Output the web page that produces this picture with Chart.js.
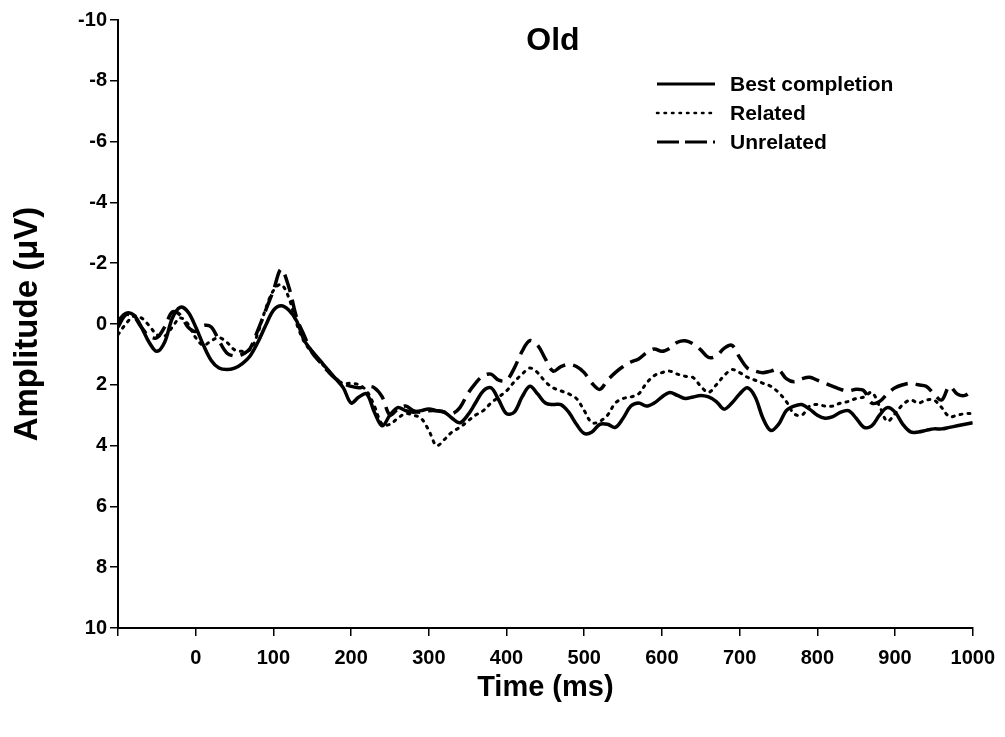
<!DOCTYPE html>
<html>
<head>
<meta charset="utf-8">
<script src="https://cdn.jsdelivr.net/npm/chart.js@4/dist/chart.umd.min.js"></script>
<style>
    html, body { margin: 0; padding: 0; background: #fff; }
    #wrap { width: 1005px; height: 737px; }
</style>
</head>
<body>
<div id="wrap"><canvas id="erp-chart"></canvas></div>
<script>
// Time points (ms), every 10 ms from -100 to 1000
const times = [];
for (let t = -100; t <= 1000; t += 10) times.push(t);

// Amplitude (uV), one value per time point
const bestCompletion = [
    -0.1, -0.35, -0.3, 0.1, 0.6, 0.9, 0.6, -0.2, -0.55, -0.4,
    0.1, 0.7, 1.2, 1.45, 1.5, 1.45, 1.3, 1.05, 0.6, 0.05,
    -0.45, -0.6, -0.45, -0.1, 0.55, 0.9, 1.2, 1.5, 1.8, 2.1,
    2.6, 2.4, 2.3, 2.9, 3.35, 3.0, 2.75, 2.85, 2.9, 2.85,
    2.8, 2.85, 2.9, 3.1, 3.25, 3.0, 2.6, 2.2, 2.1, 2.5,
    2.95, 2.9, 2.4, 2.05, 2.3, 2.6, 2.65, 2.65, 2.9, 3.3,
    3.6, 3.55, 3.3, 3.3, 3.4, 3.1, 2.7, 2.6, 2.7, 2.6,
    2.4, 2.25, 2.35, 2.45, 2.4, 2.35, 2.4, 2.55, 2.8, 2.6,
    2.3, 2.1, 2.4, 3.1, 3.5, 3.3, 2.85, 2.7, 2.65, 2.8,
    3.0, 3.1, 3.05, 2.9, 2.85, 3.1, 3.4, 3.35, 3.0, 2.75,
    2.9, 3.3, 3.55, 3.55, 3.5, 3.45, 3.45, 3.4, 3.35, 3.3,
    3.25
];
const related = [
    0.35, 0.0, -0.25, -0.2, 0.05, 0.35, 0.4, 0.1, -0.2, 0.0,
    0.45, 0.7, 0.55, 0.45, 0.6, 0.85, 0.9, 0.85, 0.3, -0.5,
    -1.1, -1.3, -0.85, 0.0, 0.6, 0.95, 1.25, 1.5, 1.8, 1.95,
    1.95, 2.0, 2.2, 2.7, 3.3, 3.3, 3.1, 2.95, 3.0, 3.1,
    3.5, 4.0, 3.8, 3.55, 3.4, 3.2, 3.0, 2.85, 2.6, 2.4,
    2.2, 1.9, 1.65, 1.45, 1.6, 1.9, 2.1, 2.2, 2.3, 2.45,
    2.85, 3.25, 3.2, 3.0, 2.6, 2.45, 2.4, 2.3, 1.95, 1.7,
    1.6, 1.55, 1.65, 1.72, 1.76, 2.05, 2.25, 2.0, 1.7, 1.5,
    1.6, 1.75, 1.85, 1.95, 2.05, 2.25, 2.55, 2.95, 3.0, 2.7,
    2.65, 2.7, 2.7, 2.6, 2.55, 2.45, 2.4, 2.25, 2.7, 3.2,
    2.95, 2.65, 2.5, 2.6, 2.5, 2.5, 2.75, 3.05, 3.0, 2.95,
    2.95
];
const unrelated = [
    0.1, -0.3, -0.25, 0.1, 0.4, 0.45, 0.1, -0.4, -0.3, 0.1,
    0.25, 0.05, 0.1, 0.55, 0.95, 1.05, 1.0, 0.8, 0.2, -0.45,
    -1.1, -1.8, -1.2, -0.2, 0.4, 0.95, 1.25, 1.55, 1.8, 1.95,
    2.05, 2.1, 2.05, 2.1, 2.4, 3.0, 2.8, 2.7, 2.85, 2.9,
    2.85, 2.85, 2.9, 2.95, 2.75, 2.3, 1.95, 1.7, 1.65, 1.85,
    1.85, 1.45, 0.9, 0.55, 0.7, 1.15, 1.55, 1.4, 1.33, 1.4,
    1.6, 1.95, 2.15, 1.85, 1.6, 1.4, 1.25, 1.15, 0.95, 0.82,
    0.9, 0.8, 0.6, 0.55, 0.65, 0.85, 1.1, 1.05, 0.8, 0.7,
    1.1, 1.45, 1.55, 1.6, 1.55, 1.5, 1.8, 1.9, 1.8, 1.75,
    1.85, 1.95, 2.05, 2.15, 2.2, 2.15, 2.2, 2.6, 2.55, 2.3,
    2.1, 2.0, 1.95, 2.0, 2.05, 2.3, 2.5, 2.05, 2.3, 2.35,
    2.15
];

const seriesNames = ['Best completion', 'Related', 'Unrelated'];
const xTickValues = [-100, 0, 100, 200, 300, 400, 500, 600, 700, 800, 900, 1000];
const yTickValues = [-10, -8, -6, -4, -2, 0, 2, 4, 6, 8, 10];

const FONT = '"Liberation Sans", Arial, sans-serif';
const styles = [
    { width: 3.5, dash: [], cap: 'butt' },
    { width: 3, dash: [2, 6], cap: 'round' },
    { width: 3.5, dash: [18, 8], cap: 'butt' }
];

function toPoints(values) {
    return values.map((v, i) => ({ x: times[i], y: v }));
}

// Title and legend sit inside the plot area, as in the figure
const overlayPlugin = {
    id: 'overlay',
    afterDraw(chart) {
        const ctx = chart.ctx;
        ctx.save();
        ctx.fillStyle = '#000';
        ctx.font = 'bold 32px ' + FONT;
        ctx.textAlign = 'center';
        ctx.textBaseline = 'middle';
        ctx.fillText('Old', 553, 41);

        ctx.font = 'bold 21px ' + FONT;
        ctx.textAlign = 'left';
        const lx = 657, tx = 730;
        const rows = [84, 113, 142];
        seriesNames.forEach((name, i) => {
            ctx.beginPath();
            ctx.lineWidth = i === 1 ? 2.5 : 3;
            ctx.lineCap = i === 1 ? 'round' : 'butt';
            ctx.setLineDash(i === 0 ? [] : (i === 1 ? [1.5, 6] : [22, 6]));
            ctx.strokeStyle = '#000';
            ctx.moveTo(lx, rows[i]);
            ctx.lineTo(lx + 58, rows[i]);
            ctx.stroke();
            ctx.setLineDash([]);
            ctx.fillText(name, tx, rows[i] + 1);
        });
        ctx.restore();
    }
};

document.addEventListener('DOMContentLoaded', function() {
    const ctx = document.getElementById('erp-chart');
    new Chart(ctx, {
        type: 'line',
        data: {
            datasets: seriesNames.map((name, i) => ({
                label: name,
                data: toPoints([bestCompletion, related, unrelated][i]),
                borderColor: '#000',
                borderWidth: styles[i].width,
                borderDash: styles[i].dash,
                borderCapStyle: styles[i].cap,
                pointRadius: 0,
                tension: 0.35,
                fill: false
            }))
        },
        options: {
            responsive: true,
            maintainAspectRatio: false,
            animation: false,
            layout: { padding: { left: 0, top: 20, right: 30, bottom: 0 } },
            plugins: {
                legend: { display: false },
                tooltip: { enabled: false }
            },
            scales: {
                x: {
                    type: 'linear',
                    min: -100,
                    max: 1000,
                    afterBuildTicks: (scale) => { scale.ticks = xTickValues.map(v => ({ value: v })); },
                    afterFit: (scale) => { scale.height = 109; },
                    border: { color: '#000', width: 2 },
                    grid: { drawOnChartArea: false, drawTicks: true, tickLength: 8, color: '#000', lineWidth: 1.5 },
                    ticks: {
                        color: '#000',
                        padding: 10,
                        maxRotation: 0,
                        autoSkip: false,
                        font: { family: FONT, size: 20, weight: 'bold' },
                        callback: (v) => (v === -100 ? '' : String(v))
                    },
                    title: {
                        display: true,
                        text: 'Time (ms)',
                        color: '#000',
                        padding: { top: 0, bottom: 32 },
                        font: { family: FONT, size: 29, weight: 'bold' }
                    }
                },
                y: {
                    type: 'linear',
                    min: -10,
                    max: 10,
                    reverse: true,
                    afterBuildTicks: (scale) => { scale.ticks = yTickValues.map(v => ({ value: v })); },
                    afterFit: (scale) => { scale.width = 118; },
                    border: { color: '#000', width: 2 },
                    grid: { drawOnChartArea: false, drawTicks: true, tickLength: 8, color: '#000', lineWidth: 1.5 },
                    ticks: {
                        color: '#000',
                        padding: 3,
                        autoSkip: false,
                        font: { family: FONT, size: 20, weight: 'bold' }
                    },
                    title: {
                        display: true,
                        text: 'Amplitude (μV)',
                        color: '#000',
                        padding: { top: 8, bottom: 0 },
                        font: { family: FONT, size: 33, weight: 'bold' }
                    }
                }
            }
        },
        plugins: [overlayPlugin]
    });
});
</script>
</body>
</html>
